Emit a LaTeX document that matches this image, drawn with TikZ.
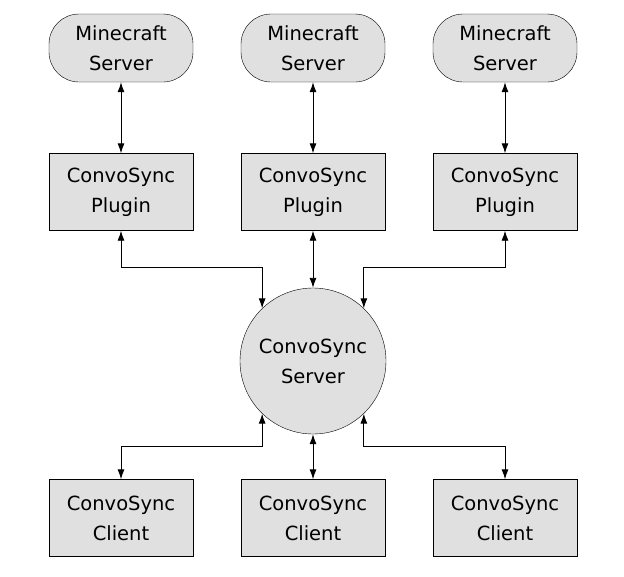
\documentclass[tikz,border=0pt]{standalone}
\usepackage{fontspec}
\setmainfont{DejaVu Sans}
\usetikzlibrary{arrows.meta}
\tikzset{
  box/.style={draw=black,fill=black!12,minimum width=144pt,minimum height=77pt,align=center,font=\fontsize{19.5}{30}\selectfont},
  mc/.style={box,rounded corners=30pt,minimum height=68pt},
  hub/.style={draw=black,fill=black!12,circle,minimum size=146pt,align=center,font=\fontsize{19.5}{30}\selectfont},
  link/.style={<->,line width=0.9pt,>={Latex[length=10pt,width=7pt]}}
}
\begin{document}
\begin{tikzpicture}[x=1pt,y=-1pt]
   \useasboundingbox (0,0) rectangle (624,576);
   \node[mc] (m1) at (121,48) {Minecraft\\Server};
   \node[mc] (m2) at (313,48) {Minecraft\\Server};
   \node[mc] (m3) at (505,48) {Minecraft\\Server};
   \node[box] (p1) at (121,192) {ConvoSync\\Plugin};
   \node[box] (p2) at (313,192) {ConvoSync\\Plugin};
   \node[box] (p3) at (505,192) {ConvoSync\\Plugin};
   \node[hub] (srv) at (313,361) {ConvoSync\\Server};
   \node[box] (c1) at (121,518) {ConvoSync\\Client};
   \node[box] (c2) at (313,518) {ConvoSync\\Client};
   \node[box] (c3) at (505,518) {ConvoSync\\Client};
   \draw[link] (m1) -- (p1);
   \draw[link] (m2) -- (p2);
   \draw[link] (m3) -- (p3);
   \draw[link] (p1.south) -- ++(0,37) -| (srv.134);
   \draw[link] (p2) -- (srv);
   \draw[link] (p3.south) -- ++(0,37) -| (srv.46);
   \draw[link] (c1.north) -- ++(0,-33) -| (srv.226);
   \draw[link] (c2) -- (srv);
   \draw[link] (c3.north) -- ++(0,-33) -| (srv.314);
\end{tikzpicture}
\end{document}
